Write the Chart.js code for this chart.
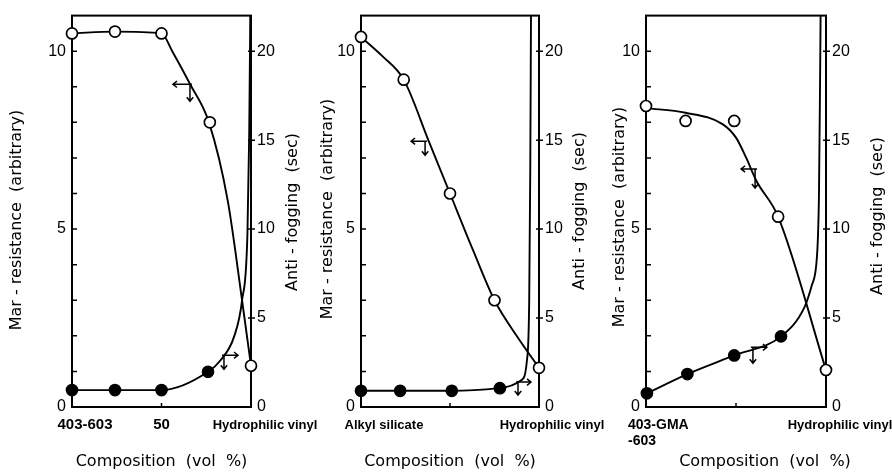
<!DOCTYPE html>
<html><head><meta charset="utf-8">
<script src="https://cdn.jsdelivr.net/npm/chart.js@4.4.0/dist/chart.umd.min.js"></script>
<style>
html,body{margin:0;padding:0;background:#fff;}
#wrap{position:relative;width:892px;height:472px;overflow:hidden;background:#fff;}
canvas{position:absolute;left:0;top:0;}
</style></head><body>
<div id="wrap">
<canvas id="c1" width="892" height="472"></canvas>
<canvas id="c2" width="892" height="472"></canvas>
<canvas id="c3" width="892" height="472"></canvas>
</div>
<script>
// ---------- shared axis ticks and titles ----------
const marTicks = [0, 5, 10];
const fogTicks = [0, 5, 10, 15, 20];
const marMinorTicks = [1, 2, 3, 4, 5, 6, 7, 8, 9, 10];
const fogMajorMarks = [5, 10, 15, 20];
const xMidMark = [50];
const marTitle = 'Mar - resistance  (arbitrary)';
const fogTitle = 'Anti - fogging  (sec)';
const xTitle = 'Composition  (vol  %)';

// ---------- panel 1 : 403-603 / hydrophilic vinyl ----------
const p1Categories = ['403-603', '50', 'Hydrophilic vinyl'];
const p1CategoryAt = [0, 50, 100];
const p1MarX = [0, 24, 50, 77, 100];
const p1MarY = [10.5, 10.55, 10.5, 8.0, 1.16];
const p1FogX = [0, 24, 50, 76];
const p1FogY = [0.95, 0.95, 0.95, 1.98];
const p1MarCurveX = [0, 24, 50, 56, 66, 76.5, 87, 95, 100];
const p1MarCurveY = [10.5, 10.55, 10.5, 10.0, 9.07, 8.0, 5.8, 3.0, 1.16];
const p1FogCurveX = [0, 24, 50, 76, 83, 90.5, 95, 98, 99, 99.6];
const p1FogCurveY = [0.95, 0.95, 0.95, 1.98, 2.63, 3.94, 5.99, 9.7, 15.3, 22];
const p1MarArrow = [65.9, 9.07];
const p1FogArrow = [84.9, 2.91];

// ---------- panel 2 : alkyl silicate / hydrophilic vinyl ----------
const p2Categories = ['Alkyl silicate', 'Hydrophilic vinyl'];
const p2CategoryAt = [0, 100];
const p2MarX = [0, 24, 50, 75, 100];
const p2MarY = [10.4, 9.2, 6.0, 3.0, 1.1];
const p2FogX = [0, 22, 51, 78];
const p2FogY = [0.91, 0.91, 0.91, 1.06];
const p2MarCurveX = [0, 12, 24, 38, 50, 63, 75, 88, 100];
const p2MarCurveY = [10.4, 9.86, 9.2, 7.48, 6.0, 4.4, 3.0, 1.96, 1.1];
const p2FogCurveX = [0, 22, 51, 78, 90, 93.2, 94.5, 95.1, 95.5];
const p2FogCurveY = [0.91, 0.91, 0.91, 1.06, 1.5, 2.6, 6.0, 13.4, 22];
const p2MarArrow = [36, 7.47];
const p2FogArrow = [88.2, 1.4];

// ---------- panel 3 : 403-GMA-603 / hydrophilic vinyl ----------
const p3Categories = [['403-GMA', '-603'], 'Hydrophilic vinyl'];
const p3CategoryAt = [0, 100];
const p3MarX = [0, 22, 49, 73.4, 100];
const p3MarY = [8.46, 8.04, 8.04, 5.35, 1.04];
const p3FogX = [0.5, 23, 49, 75];
const p3FogY = [0.77, 1.85, 2.9, 3.97];
const p3MarCurveX = [0, 22, 42.5, 50, 55.7, 61.3, 73.4, 100];
const p3MarCurveY = [8.4, 8.27, 7.95, 7.57, 7.0, 6.36, 5.35, 1.04];
const p3FogCurveX = [0.5, 23, 49, 75, 88, 92, 94.5, 95.5, 96.1, 96.7, 97.0];
const p3FogCurveY = [0.77, 1.85, 2.9, 3.97, 5.6, 6.8, 7.9, 9.5, 12, 18.3, 22];
const p3MarArrow = [60.6, 6.69];
const p3FogArrow = [59.4, 3.36];

// ---------- drawing ----------
const INK = '#000';
const NUM_FONT = 'Liberation Sans, Arial, sans-serif';
const TITLE_FONT = '16px "DejaVu Sans", sans-serif';
const LINE_W = 1.9;

function pts(xs, ys) { return xs.map((x, i) => ({x: x, y: ys[i]})); }

function arrow(ctx, x, y, dir, hLen, vLen) {
  const h = 4;
  ctx.beginPath();
  ctx.moveTo(x - dir * 2, y); ctx.lineTo(x + dir * hLen, y);
  ctx.moveTo(x + dir * (hLen - h), y - h * 0.8); ctx.lineTo(x + dir * hLen, y); ctx.lineTo(x + dir * (hLen - h), y + h * 0.8);
  ctx.moveTo(x, y); ctx.lineTo(x, y + vLen);
  ctx.moveTo(x - h * 0.8, y + vLen - h); ctx.lineTo(x, y + vLen); ctx.lineTo(x + h * 0.8, y + vLen - h);
  ctx.stroke();
}

function decor(d, L) {
  return {
    id: 'decor',
    beforeDatasetsDraw(chart) {
      const {ctx, chartArea: a, scales} = chart;
      ctx.save();
      ctx.strokeStyle = INK; ctx.lineWidth = 2;
      ctx.strokeRect(a.left, a.top, a.right - a.left, a.bottom - a.top);
      ctx.lineWidth = 1.5;
      ctx.beginPath();
      marMinorTicks.forEach(v => { const y = scales.y.getPixelForValue(v); ctx.moveTo(a.left, y); ctx.lineTo(a.left + 5, y); });
      fogMajorMarks.forEach(v => { const y = scales.y2.getPixelForValue(v); ctx.moveTo(a.right - 3, y); ctx.lineTo(a.right + 4, y); });
      xMidMark.forEach(v => { const x = scales.x.getPixelForValue(v); ctx.moveTo(x, a.bottom); ctx.lineTo(x, a.bottom - 4); });
      ctx.stroke();
      ctx.restore();
    },
    afterDraw(chart) {
      const {ctx, chartArea: a, scales} = chart;
      ctx.save();
      ctx.fillStyle = INK; ctx.strokeStyle = INK;
      // axis titles
      ctx.font = TITLE_FONT; ctx.textAlign = 'center'; ctx.textBaseline = 'middle';
      ctx.save(); ctx.translate(L.marTitle[0], L.marTitle[1]); ctx.rotate(-Math.PI / 2); ctx.fillText(marTitle, 0, 0); ctx.restore();
      ctx.save(); ctx.translate(L.fogTitle[0], L.fogTitle[1]); ctx.rotate(-Math.PI / 2); ctx.fillText(fogTitle, 0, 0); ctx.restore();
      ctx.fillText(xTitle, (a.left + a.right) / 2 + L.xTitleDx, 462);
      // category labels under the x axis
      d.categories.forEach((lab, i) => {
        const st = L.cat[i];
        ctx.font = 'bold ' + st.size + 'px ' + NUM_FONT;
        ctx.textAlign = st.align;
        const x = scales.x.getPixelForValue(d.categoryAt[i]) + st.dx;
        const lines = Array.isArray(lab) ? lab : [lab];
        lines.forEach((t, k) => ctx.fillText(t, x, 425 + k * 16));
      });
      // arrows pointing to the axis each curve belongs to
      ctx.lineWidth = 1.5;
      arrow(ctx, scales.x.getPixelForValue(d.marArrow[0]), scales.y.getPixelForValue(d.marArrow[1]), -1, L.marArrowLen[0], L.marArrowLen[1]);
      arrow(ctx, scales.x.getPixelForValue(d.fogArrow[0]), scales.y2.getPixelForValue(d.fogArrow[1]), 1, L.fogArrowLen[0], L.fogArrowLen[1]);
      ctx.restore();
    }
  };
}

function panel(id, d, L) {
  new Chart(document.getElementById(id), {
    type: 'scatter',
    data: { datasets: [
      { data: pts(d.marX, d.marY), yAxisID: 'y', showLine: false, pointRadius: 5.5,
        pointBackgroundColor: '#fff', pointBorderColor: INK, pointBorderWidth: 1.7, clip: false },
      { data: pts(d.fogX, d.fogY), yAxisID: 'y2', showLine: false, pointRadius: 5.5,
        pointBackgroundColor: INK, pointBorderColor: INK, pointBorderWidth: 1.7, clip: false },
      { data: pts(d.marCurveX, d.marCurveY), yAxisID: 'y', showLine: true, pointRadius: 0,
        borderColor: INK, borderWidth: LINE_W, cubicInterpolationMode: 'monotone', clip: false },
      { data: pts(d.fogCurveX, d.fogCurveY), yAxisID: 'y2', showLine: true, pointRadius: 0,
        borderColor: INK, borderWidth: LINE_W, cubicInterpolationMode: 'monotone', clip: false }
    ]},
    options: {
      responsive: false, animation: false, events: [],
      layout: { padding: { top: 14, bottom: 65, left: L.padL, right: L.padR } },
      scales: {
        x: { type: 'linear', display: false, min: 0, max: 100 },
        y: { type: 'linear', position: 'left', min: 0, max: 11,
             afterFit: s => { s.width = L.leftW; },
             afterBuildTicks: s => { s.ticks = marTicks.map(v => ({value: v})); },
             grid: { display: false, drawTicks: false }, border: { display: false },
             ticks: { color: INK, padding: 6, font: { family: NUM_FONT, size: 16 } } },
        y2: { type: 'linear', position: 'right', min: 0, max: 22,
             afterFit: s => { s.width = L.rightW; },
             afterBuildTicks: s => { s.ticks = fogTicks.map(v => ({value: v})); },
             grid: { display: false, drawTicks: false }, border: { display: false },
             ticks: { color: INK, padding: 6, font: { family: NUM_FONT, size: 16 } } }
      },
      plugins: { legend: { display: false }, tooltip: { enabled: false } }
    },
    plugins: [decor(d, L)]
  });
}

panel('c1', {
  categories: p1Categories, categoryAt: p1CategoryAt,
  marX: p1MarX, marY: p1MarY, fogX: p1FogX, fogY: p1FogY,
  marCurveX: p1MarCurveX, marCurveY: p1MarCurveY, fogCurveX: p1FogCurveX, fogCurveY: p1FogCurveY,
  marArrow: p1MarArrow, fogArrow: p1FogArrow
}, { padL: 0, leftW: 72, rightW: 60, padR: 892 - 251 - 60,
     marTitle: [17, 220], fogTitle: [293, 212], xTitleDx: 0,
     cat: [{dx: 13, align: 'center', size: 15}, {dx: 0, align: 'center', size: 15}, {dx: 14, align: 'center', size: 13}],
     marArrowLen: [17, 17], fogArrowLen: [14, 14] });

panel('c2', {
  categories: p2Categories, categoryAt: p2CategoryAt,
  marX: p2MarX, marY: p2MarY, fogX: p2FogX, fogY: p2FogY,
  marCurveX: p2MarCurveX, marCurveY: p2MarCurveY, fogCurveX: p2FogCurveX, fogCurveY: p2FogCurveY,
  marArrow: p2MarArrow, fogArrow: p2FogArrow
}, { padL: 310, leftW: 51, rightW: 60, padR: 892 - 539 - 60,
     marTitle: [328, 209], fogTitle: [580, 211], xTitleDx: 0,
     cat: [{dx: 23, align: 'center', size: 13}, {dx: 13, align: 'center', size: 13}],
     marArrowLen: [14, 14], fogArrowLen: [13, 13] });

panel('c3', {
  categories: p3Categories, categoryAt: p3CategoryAt,
  marX: p3MarX, marY: p3MarY, fogX: p3FogX, fogY: p3FogY,
  marCurveX: p3MarCurveX, marCurveY: p3MarCurveY, fogCurveX: p3FogCurveX, fogCurveY: p3FogCurveY,
  marArrow: p3MarArrow, fogArrow: p3FogArrow
}, { padL: 600, leftW: 46, rightW: 60, padR: 892 - 826 - 60,
     marTitle: [620, 217], fogTitle: [878, 216], xTitleDx: 29,
     cat: [{dx: -18, align: 'left', size: 14}, {dx: 14, align: 'center', size: 13}],
     marArrowLen: [14, 19], fogArrowLen: [14, 16] });
</script>
</body></html>
